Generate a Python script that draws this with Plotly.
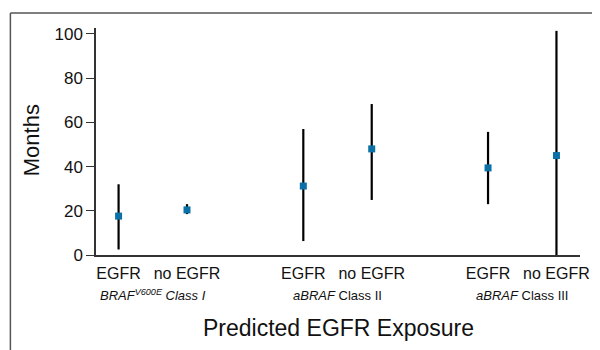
import plotly.graph_objects as go

# Data
x_pos = [1, 2, 3.7, 4.7, 6.4, 7.4]
tick_labels = ["EGFR", "no EGFR", "EGFR", "no EGFR", "EGFR", "no EGFR"]
median = [17.6, 20.4, 31.2, 48.0, 39.4, 45.0]
upper = [32.0, 23.0, 57.0, 68.3, 55.7, 101.4]
lower = [2.5, 18.5, 6.3, 24.9, 23.0, 0.0]
group_centers = [1.5, 4.2, 6.9]
group_labels = ["<i>BRAF<sup>V600E</sup> Class I</i>", "<i>aBRAF</i> Class II", "<i>aBRAF</i> Class III"]
y_ticks = [0, 20, 40, 60, 80, 100]

err_plus = [u - m for u, m in zip(upper, median)]
err_minus = [m - l for m, l in zip(median, lower)]

FONT = "Liberation Sans, Arial, sans-serif"

fig = go.Figure()
fig.add_trace(go.Scatter(
    x=x_pos, y=median, mode="markers",
    marker=dict(symbol="square", size=7, color="#0a70a6"),
    error_y=dict(type="data", symmetric=False, array=err_plus, arrayminus=err_minus,
                 color="black", thickness=2.2, width=0),
    showlegend=False, cliponaxis=False,
))

OFF = 8  # page body margin
W, H = 592, 342
L, R, T, B = 96 - OFF, 11, 28 - OFF, 95
pw, ph = W - L - R, H - T - B

def px(xp):  # page pixel -> paper
    return (xp - OFF - L) / pw

def py(yp):
    return (T + ph - (yp - OFF)) / ph

for c, lab in zip(group_centers, group_labels):
    fig.add_annotation(x=c, y=py(295), xref="x", yref="paper", text=lab,
                       showarrow=False, yanchor="middle", xanchor="center",
                       font=dict(family=FONT, size=13, color="#111"))

fig.add_annotation(x=0.5, y=py(328), xref="paper", yref="paper",
                   text="Predicted EGFR Exposure", showarrow=False,
                   yanchor="middle", xanchor="center",
                   font=dict(family=FONT, size=23, color="#111"))

# frame border
fig.add_shape(type="line", xref="paper", yref="paper", x0=px(8.8), x1=px(8.8), y0=py(13), y1=py(352),
              line=dict(color="#555", width=1.5))
fig.add_shape(type="line", xref="paper", yref="paper", x0=px(8.8), x1=px(602), y0=py(13), y1=py(13),
              line=dict(color="#555", width=1.5))

fig.update_layout(
    width=W, height=H,
    margin=dict(l=L, r=R, t=T, b=B),
    paper_bgcolor="white", plot_bgcolor="white",
    font=dict(family=FONT, color="#111"),
    xaxis=dict(range=[0.67, 7.744], tickvals=x_pos, ticktext=tick_labels,
               showline=True, linecolor="#333", linewidth=1.5, showgrid=False,
               zeroline=False, ticks="outside", ticklen=3, tickcolor="rgba(0,0,0,0)",
               tickfont=dict(size=16, family=FONT, color="#111")),
    yaxis=dict(range=[0, 102.7], tickvals=y_ticks, showline=True, linecolor="#333",
               linewidth=1.5, showgrid=False, zeroline=False, ticks="outside",
               ticklen=8, tickcolor="#333", tickwidth=1.2,
               tickfont=dict(size=17, family=FONT, color="#111")),
)
fig.add_annotation(x=px(30), y=py(140), xref="paper", yref="paper", text="Months",
                   textangle=-90, showarrow=False, xanchor="center", yanchor="middle",
                   font=dict(size=22, family=FONT, color="#111"))

fig.write_html("out.html")
